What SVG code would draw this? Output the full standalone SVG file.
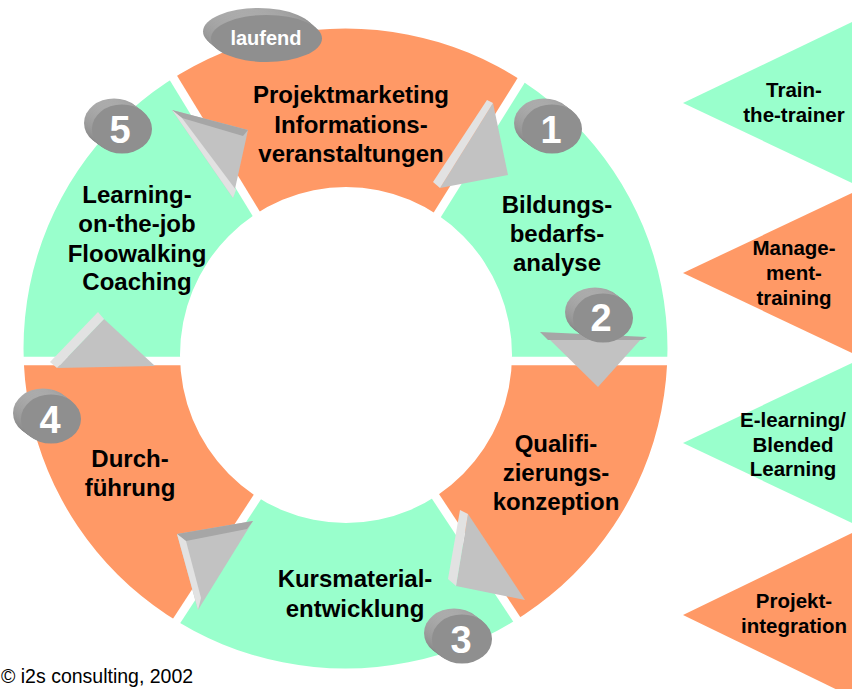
<svg xmlns="http://www.w3.org/2000/svg" xmlns:xlink="http://www.w3.org/1999/xlink" width="857" height="689" viewBox="0 0 857 689">
<style>
.lbl{font-family:"Liberation Sans",Arial,sans-serif;font-weight:bold;font-size:24px;text-anchor:middle;fill:#000}
.side{font-size:20.5px}
.num{font-family:"Liberation Sans",Arial,sans-serif;font-weight:bold;font-size:38px;text-anchor:middle;fill:#fff}
.tag{font-family:"Liberation Sans",Arial,sans-serif;font-weight:bold;font-size:20px;text-anchor:middle;fill:#fff}
.copy{font-family:"Liberation Sans",Arial,sans-serif;font-size:19.5px;fill:#000}
.or{fill:#FF9966}
.gr{fill:#99FFCC}
.face{fill:#c2c2c2}
.lite{fill:#e2e2e2}
.dark{fill:#a6a6a6}
.gap{stroke:#fff;stroke-width:8.5;fill:none}
.rimc{fill:url(#rim)}
.front{fill:#8f8f8f}
</style>
<defs>
<linearGradient id="rim" x1="0" y1="0" x2="0.4" y2="1">
<stop offset="0" stop-color="#b4b4b4"/>
<stop offset="1" stop-color="#7a7a7a"/>
</linearGradient>
<clipPath id="ringClip">
<path clip-rule="evenodd" d="M23.5 348.5a322 320 0 1 0 644 0a322 320 0 1 0 -644 0ZM180 355a166 168 0 1 0 332 0a166 168 0 1 0 -332 0Z"/>
</clipPath>
<g id="coin">
<ellipse class="rimc" cx="-8" cy="-6" rx="30" ry="24.5"/>
<ellipse class="rimc" cx="-6" cy="-4.5" rx="30" ry="24.5"/>
<ellipse class="rimc" cx="-4" cy="-3" rx="30" ry="24.5"/>
<ellipse class="rimc" cx="-2" cy="-1.5" rx="30" ry="24.5"/>
<ellipse class="front" cx="0" cy="0" rx="30" ry="24.5"/>
</g>
</defs>

<g id="ring" clip-path="url(#ringClip)">
<polygon class="or" points="346,361 -164,-476 868,-476"/>
<polygon class="gr" points="346,361 868,-476 1400,-476 1400,361"/>
<polygon class="or" points="346,361 1400,361 1400,1150 868,1150"/>
<polygon class="gr" points="346,361 868,1150 -170,1153"/>
<polygon class="or" points="346,361 -170,1153 -700,1153 -700,361"/>
<polygon class="gr" points="346,361 -700,361 -700,-476 -164,-476"/>
</g>
<g id="gaps">
<line class="gap" x1="346" y1="361" x2="160" y2="56"/>
<line class="gap" x1="346" y1="361" x2="537" y2="55"/>
<line class="gap" x1="346" y1="361" x2="0" y2="361"/>
<line class="gap" x1="346" y1="361" x2="690" y2="361"/>
<line class="gap" x1="346" y1="361" x2="537" y2="650"/>
<line class="gap" x1="346" y1="361" x2="157" y2="651"/>
</g>

<g id="connectors">
<g id="arrow-tr">
<polygon class="face" points="493,103 508,175 440,188"/>
<polygon class="lite" points="487,100 493,103 440,188 433,182"/>
</g>
<g id="arrow-r">
<polygon class="face" points="548,338 642,338 598,387"/>
<polygon class="dark" points="540,332 647,337 642,340 548,340"/>
</g>
<g id="arrow-br">
<polygon class="face" points="468,514 525,600 456,586"/>
<polygon class="lite" points="460,510 468,514 456,586 448,579"/>
</g>
<g id="arrow-bl">
<polygon class="face" points="177,534 253,521 198,610"/>
<polygon class="dark" points="177,534 253,521 247,529 186,541"/>
<polygon class="lite" points="177,534 186,541 201,598 198,610"/>
</g>
<g id="arrow-l">
<polygon class="face" points="104,319 155,366 57,368"/>
<polygon class="lite" points="98,312 104,319 57,368 50,362"/>
</g>
<g id="arrow-tl">
<polygon class="face" points="172,110 248,130 233,198"/>
<polygon class="dark" points="172,110 248,130 243,136 182,118"/>
<polygon class="lite" points="172,110 182,118 236,190 233,198"/>
</g>
</g>

<g id="node-laufend">
<ellipse class="rimc" cx="258.5" cy="31.5" rx="55.5" ry="23.5"/>
<ellipse class="rimc" cx="260.5" cy="33.3" rx="55.5" ry="23.5"/>
<ellipse class="rimc" cx="262.5" cy="35" rx="55.5" ry="23.5"/>
<ellipse class="rimc" cx="264.5" cy="36.8" rx="55.5" ry="23.5"/>
<ellipse class="front" cx="266.5" cy="38.5" rx="55.5" ry="23.5"/>
<text class="tag" x="266" y="45">laufend</text>
</g>

<g id="node-projektmarketing">
<text class="lbl" x="351" y="103">Projektmarketing</text>
<text class="lbl" x="351" y="133">Informations-</text>
<text class="lbl" x="351" y="162">veranstaltungen</text>
</g>
<g id="node-1">
<use xlink:href="#coin" x="552" y="129"/>
<text class="num" x="551" y="143">1</text>
<text class="lbl" x="557" y="213">Bildungs-</text>
<text class="lbl" x="557" y="242">bedarfs-</text>
<text class="lbl" x="557" y="271">analyse</text>
</g>
<g id="node-2">
<use xlink:href="#coin" x="603" y="318"/>
<text class="num" x="601" y="331">2</text>
<text class="lbl" x="556" y="452">Qualifi-</text>
<text class="lbl" x="556" y="481">zierungs-</text>
<text class="lbl" x="556" y="510">konzeption</text>
</g>
<g id="node-3">
<text class="lbl" x="355" y="587">Kursmaterial-</text>
<text class="lbl" x="355" y="617">entwicklung</text>
<use xlink:href="#coin" x="462" y="639"/>
<text class="num" x="461" y="653">3</text>
</g>
<g id="node-4">
<use xlink:href="#coin" x="51" y="419"/>
<text class="num" x="50" y="433">4</text>
<text class="lbl" x="130" y="467">Durch-</text>
<text class="lbl" x="130" y="496">führung</text>
</g>
<g id="node-5">
<use xlink:href="#coin" x="122" y="129"/>
<text class="num" x="120" y="143">5</text>
<text class="lbl" x="137" y="203">Learning-</text>
<text class="lbl" x="137" y="232">on-the-job</text>
<text class="lbl" x="137" y="262">Floowalking</text>
<text class="lbl" x="137" y="290">Coaching</text>
</g>

<g id="side-train">
<polygon class="gr" points="683,103 852,22 852,183"/>
<text class="lbl side" x="794" y="97">Train-</text>
<text class="lbl side" x="794" y="122">the-trainer</text>
</g>
<g id="side-management">
<polygon class="or" points="683,273 852,193 852,353"/>
<text class="lbl side" x="794" y="255">Manage-</text>
<text class="lbl side" x="794" y="280">ment-</text>
<text class="lbl side" x="794" y="305">training</text>
</g>
<g id="side-elearning">
<polygon class="gr" points="683,443 852,363 852,523"/>
<text class="lbl side" x="793" y="427">E-learning/</text>
<text class="lbl side" x="793" y="452">Blended</text>
<text class="lbl side" x="793" y="476">Learning</text>
</g>
<g id="side-projekt">
<polygon class="or" points="683,615 852,533 852,697"/>
<text class="lbl side" x="794" y="608">Projekt-</text>
<text class="lbl side" x="794" y="633">integration</text>
</g>

<text class="copy" x="1" y="683">© i2s consulting, 2002</text>
</svg>
